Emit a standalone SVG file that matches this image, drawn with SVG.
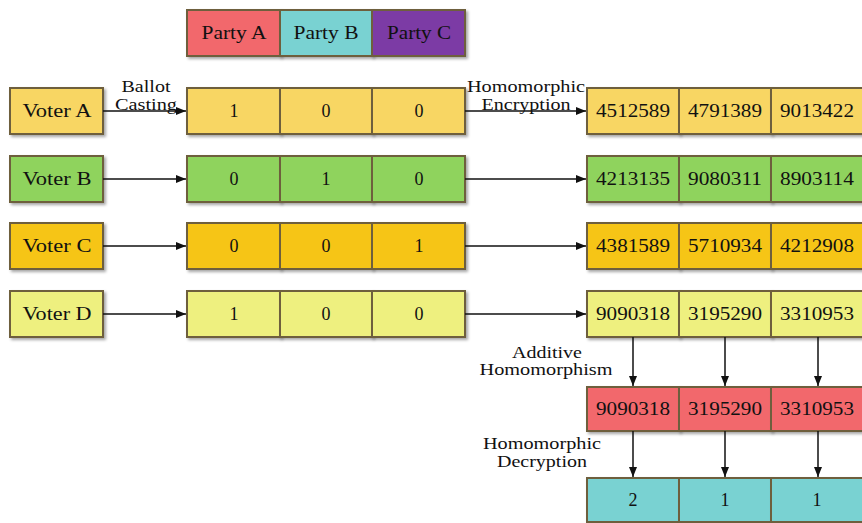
<svg xmlns="http://www.w3.org/2000/svg" width="862" height="523" viewBox="0 0 862 523">
<defs>
<filter id="sh" x="-10%" y="-10%" width="130%" height="140%">
<feDropShadow dx="2" dy="2" stdDeviation="1.5" flood-color="#000" flood-opacity="0.35"/>
</filter>
<marker id="ah" markerWidth="10" markerHeight="8" refX="10" refY="4" orient="auto" markerUnits="userSpaceOnUse">
<path d="M0,0 L10,4 L0,8 Z" fill="#111"/>
</marker>
</defs>
<style>
.b{stroke:#6e5f3e;stroke-width:2;filter:url(#sh)}
.t{font-family:"Liberation Serif",serif;font-size:18px;fill:#111;text-anchor:middle;dominant-baseline:central}
.l{font-family:"Liberation Serif",serif;font-size:16px;fill:#111;text-anchor:middle}
.c{stroke:#111;stroke-width:1.5;fill:none;marker-end:url(#ah)}
.y{fill:#F8D663}.g{fill:#8FD35D}.o{fill:#F6C516}.ly{fill:#EEF07F}.r{fill:#F2676C}.cy{fill:#79D2D2}.p{fill:#7B3AA5}
</style>
<g id="parties">
<g id="partyA"><rect class="b r" x="187" y="10" width="93" height="46"/><text class="t" x="234" y="33" textLength="65" lengthAdjust="spacingAndGlyphs">Party A</text></g>
<g id="partyB"><rect class="b cy" x="280" y="10" width="92" height="46"/><text class="t" x="326" y="33" textLength="65" lengthAdjust="spacingAndGlyphs">Party B</text></g>
<g id="partyC"><rect class="b p" x="372" y="10" width="93" height="46"/><text class="t" x="419" y="33" textLength="64" lengthAdjust="spacingAndGlyphs">Party C</text></g>
</g>
<g id="voterA"><rect class="b y" x="10" y="88" width="93" height="46"/><text class="t" x="57" y="111" textLength="69" lengthAdjust="spacingAndGlyphs">Voter A</text></g>
<g id="voterB"><rect class="b g" x="10" y="156" width="93" height="46"/><text class="t" x="57" y="179" textLength="69" lengthAdjust="spacingAndGlyphs">Voter B</text></g>
<g id="voterC"><rect class="b o" x="10" y="223" width="93" height="46"/><text class="t" x="57" y="246" textLength="69" lengthAdjust="spacingAndGlyphs">Voter C</text></g>
<g id="voterD"><rect class="b ly" x="10" y="291" width="93" height="46"/><text class="t" x="57" y="314" textLength="69" lengthAdjust="spacingAndGlyphs">Voter D</text></g>
<g id="ballotA">
<rect class="b y" x="187" y="88" width="93" height="46"/><text class="t" x="234" y="111">1</text>
<rect class="b y" x="280" y="88" width="92" height="46"/><text class="t" x="326" y="111">0</text>
<rect class="b y" x="372" y="88" width="93" height="46"/><text class="t" x="419" y="111">0</text>
</g>
<g id="ballotB">
<rect class="b g" x="187" y="156" width="93" height="46"/><text class="t" x="234" y="179">0</text>
<rect class="b g" x="280" y="156" width="92" height="46"/><text class="t" x="326" y="179">1</text>
<rect class="b g" x="372" y="156" width="93" height="46"/><text class="t" x="419" y="179">0</text>
</g>
<g id="ballotC">
<rect class="b o" x="187" y="223" width="93" height="46"/><text class="t" x="234" y="246">0</text>
<rect class="b o" x="280" y="223" width="92" height="46"/><text class="t" x="326" y="246">0</text>
<rect class="b o" x="372" y="223" width="93" height="46"/><text class="t" x="419" y="246">1</text>
</g>
<g id="ballotD">
<rect class="b ly" x="187" y="291" width="93" height="46"/><text class="t" x="234" y="314">1</text>
<rect class="b ly" x="280" y="291" width="92" height="46"/><text class="t" x="326" y="314">0</text>
<rect class="b ly" x="372" y="291" width="93" height="46"/><text class="t" x="419" y="314">0</text>
</g>
<g id="encA">
<rect class="b y" x="587" y="88" width="92" height="46"/><text class="t" x="633" y="111" textLength="74" lengthAdjust="spacingAndGlyphs">4512589</text>
<rect class="b y" x="679" y="88" width="92" height="46"/><text class="t" x="725" y="111" textLength="74" lengthAdjust="spacingAndGlyphs">4791389</text>
<rect class="b y" x="771" y="88" width="92" height="46"/><text class="t" x="817" y="111" textLength="74" lengthAdjust="spacingAndGlyphs">9013422</text>
</g>
<g id="encB">
<rect class="b g" x="587" y="156" width="92" height="46"/><text class="t" x="633" y="179" textLength="74" lengthAdjust="spacingAndGlyphs">4213135</text>
<rect class="b g" x="679" y="156" width="92" height="46"/><text class="t" x="725" y="179" textLength="74" lengthAdjust="spacingAndGlyphs">9080311</text>
<rect class="b g" x="771" y="156" width="92" height="46"/><text class="t" x="817" y="179" textLength="74" lengthAdjust="spacingAndGlyphs">8903114</text>
</g>
<g id="encC">
<rect class="b o" x="587" y="223" width="92" height="46"/><text class="t" x="633" y="246" textLength="74" lengthAdjust="spacingAndGlyphs">4381589</text>
<rect class="b o" x="679" y="223" width="92" height="46"/><text class="t" x="725" y="246" textLength="74" lengthAdjust="spacingAndGlyphs">5710934</text>
<rect class="b o" x="771" y="223" width="92" height="46"/><text class="t" x="817" y="246" textLength="74" lengthAdjust="spacingAndGlyphs">4212908</text>
</g>
<g id="encD">
<rect class="b ly" x="587" y="291" width="92" height="46"/><text class="t" x="633" y="314" textLength="74" lengthAdjust="spacingAndGlyphs">9090318</text>
<rect class="b ly" x="679" y="291" width="92" height="46"/><text class="t" x="725" y="314" textLength="74" lengthAdjust="spacingAndGlyphs">3195290</text>
<rect class="b ly" x="771" y="291" width="92" height="46"/><text class="t" x="817" y="314" textLength="74" lengthAdjust="spacingAndGlyphs">3310953</text>
</g>
<g id="sum">
<rect class="b r" x="587" y="387" width="92" height="44"/><text class="t" x="633" y="409" textLength="74" lengthAdjust="spacingAndGlyphs">9090318</text>
<rect class="b r" x="679" y="387" width="92" height="44"/><text class="t" x="725" y="409" textLength="74" lengthAdjust="spacingAndGlyphs">3195290</text>
<rect class="b r" x="771" y="387" width="92" height="44"/><text class="t" x="817" y="409" textLength="74" lengthAdjust="spacingAndGlyphs">3310953</text>
</g>
<g id="result">
<rect class="b cy" x="587" y="478" width="92" height="44"/><text class="t" x="633" y="500">2</text>
<rect class="b cy" x="679" y="478" width="92" height="44"/><text class="t" x="725" y="500">1</text>
<rect class="b cy" x="771" y="478" width="92" height="44"/><text class="t" x="817" y="500">1</text>
</g>
<g id="connectors">
<line class="c" x1="103" y1="111" x2="186" y2="111"/>
<line class="c" x1="103" y1="179" x2="186" y2="179"/>
<line class="c" x1="103" y1="246" x2="186" y2="246"/>
<line class="c" x1="103" y1="314" x2="186" y2="314"/>
<line class="c" x1="465" y1="111" x2="586" y2="111"/>
<line class="c" x1="465" y1="179" x2="586" y2="179"/>
<line class="c" x1="465" y1="246" x2="586" y2="246"/>
<line class="c" x1="465" y1="314" x2="586" y2="314"/>
<line class="c" x1="633" y1="337" x2="633" y2="386"/>
<line class="c" x1="725" y1="337" x2="725" y2="386"/>
<line class="c" x1="818" y1="337" x2="818" y2="386"/>
<line class="c" x1="633" y1="431" x2="633" y2="477"/>
<line class="c" x1="725" y1="431" x2="725" y2="477"/>
<line class="c" x1="818" y1="431" x2="818" y2="477"/>
</g>
<g id="labels">
<text class="l" x="146" y="92" textLength="49" lengthAdjust="spacingAndGlyphs">Ballot</text>
<text class="l" x="146" y="110" textLength="62" lengthAdjust="spacingAndGlyphs">Casting</text>
<text class="l" x="526" y="92" textLength="118" lengthAdjust="spacingAndGlyphs">Homomorphic</text>
<text class="l" x="526" y="110" textLength="89" lengthAdjust="spacingAndGlyphs">Encryption</text>
<text class="l" x="547" y="358" textLength="70" lengthAdjust="spacingAndGlyphs">Additive</text>
<text class="l" x="546" y="375" textLength="133" lengthAdjust="spacingAndGlyphs">Homomorphism</text>
<text class="l" x="542" y="449" textLength="118" lengthAdjust="spacingAndGlyphs">Homomorphic</text>
<text class="l" x="542" y="467" textLength="90" lengthAdjust="spacingAndGlyphs">Decryption</text>
</g>
</svg>
